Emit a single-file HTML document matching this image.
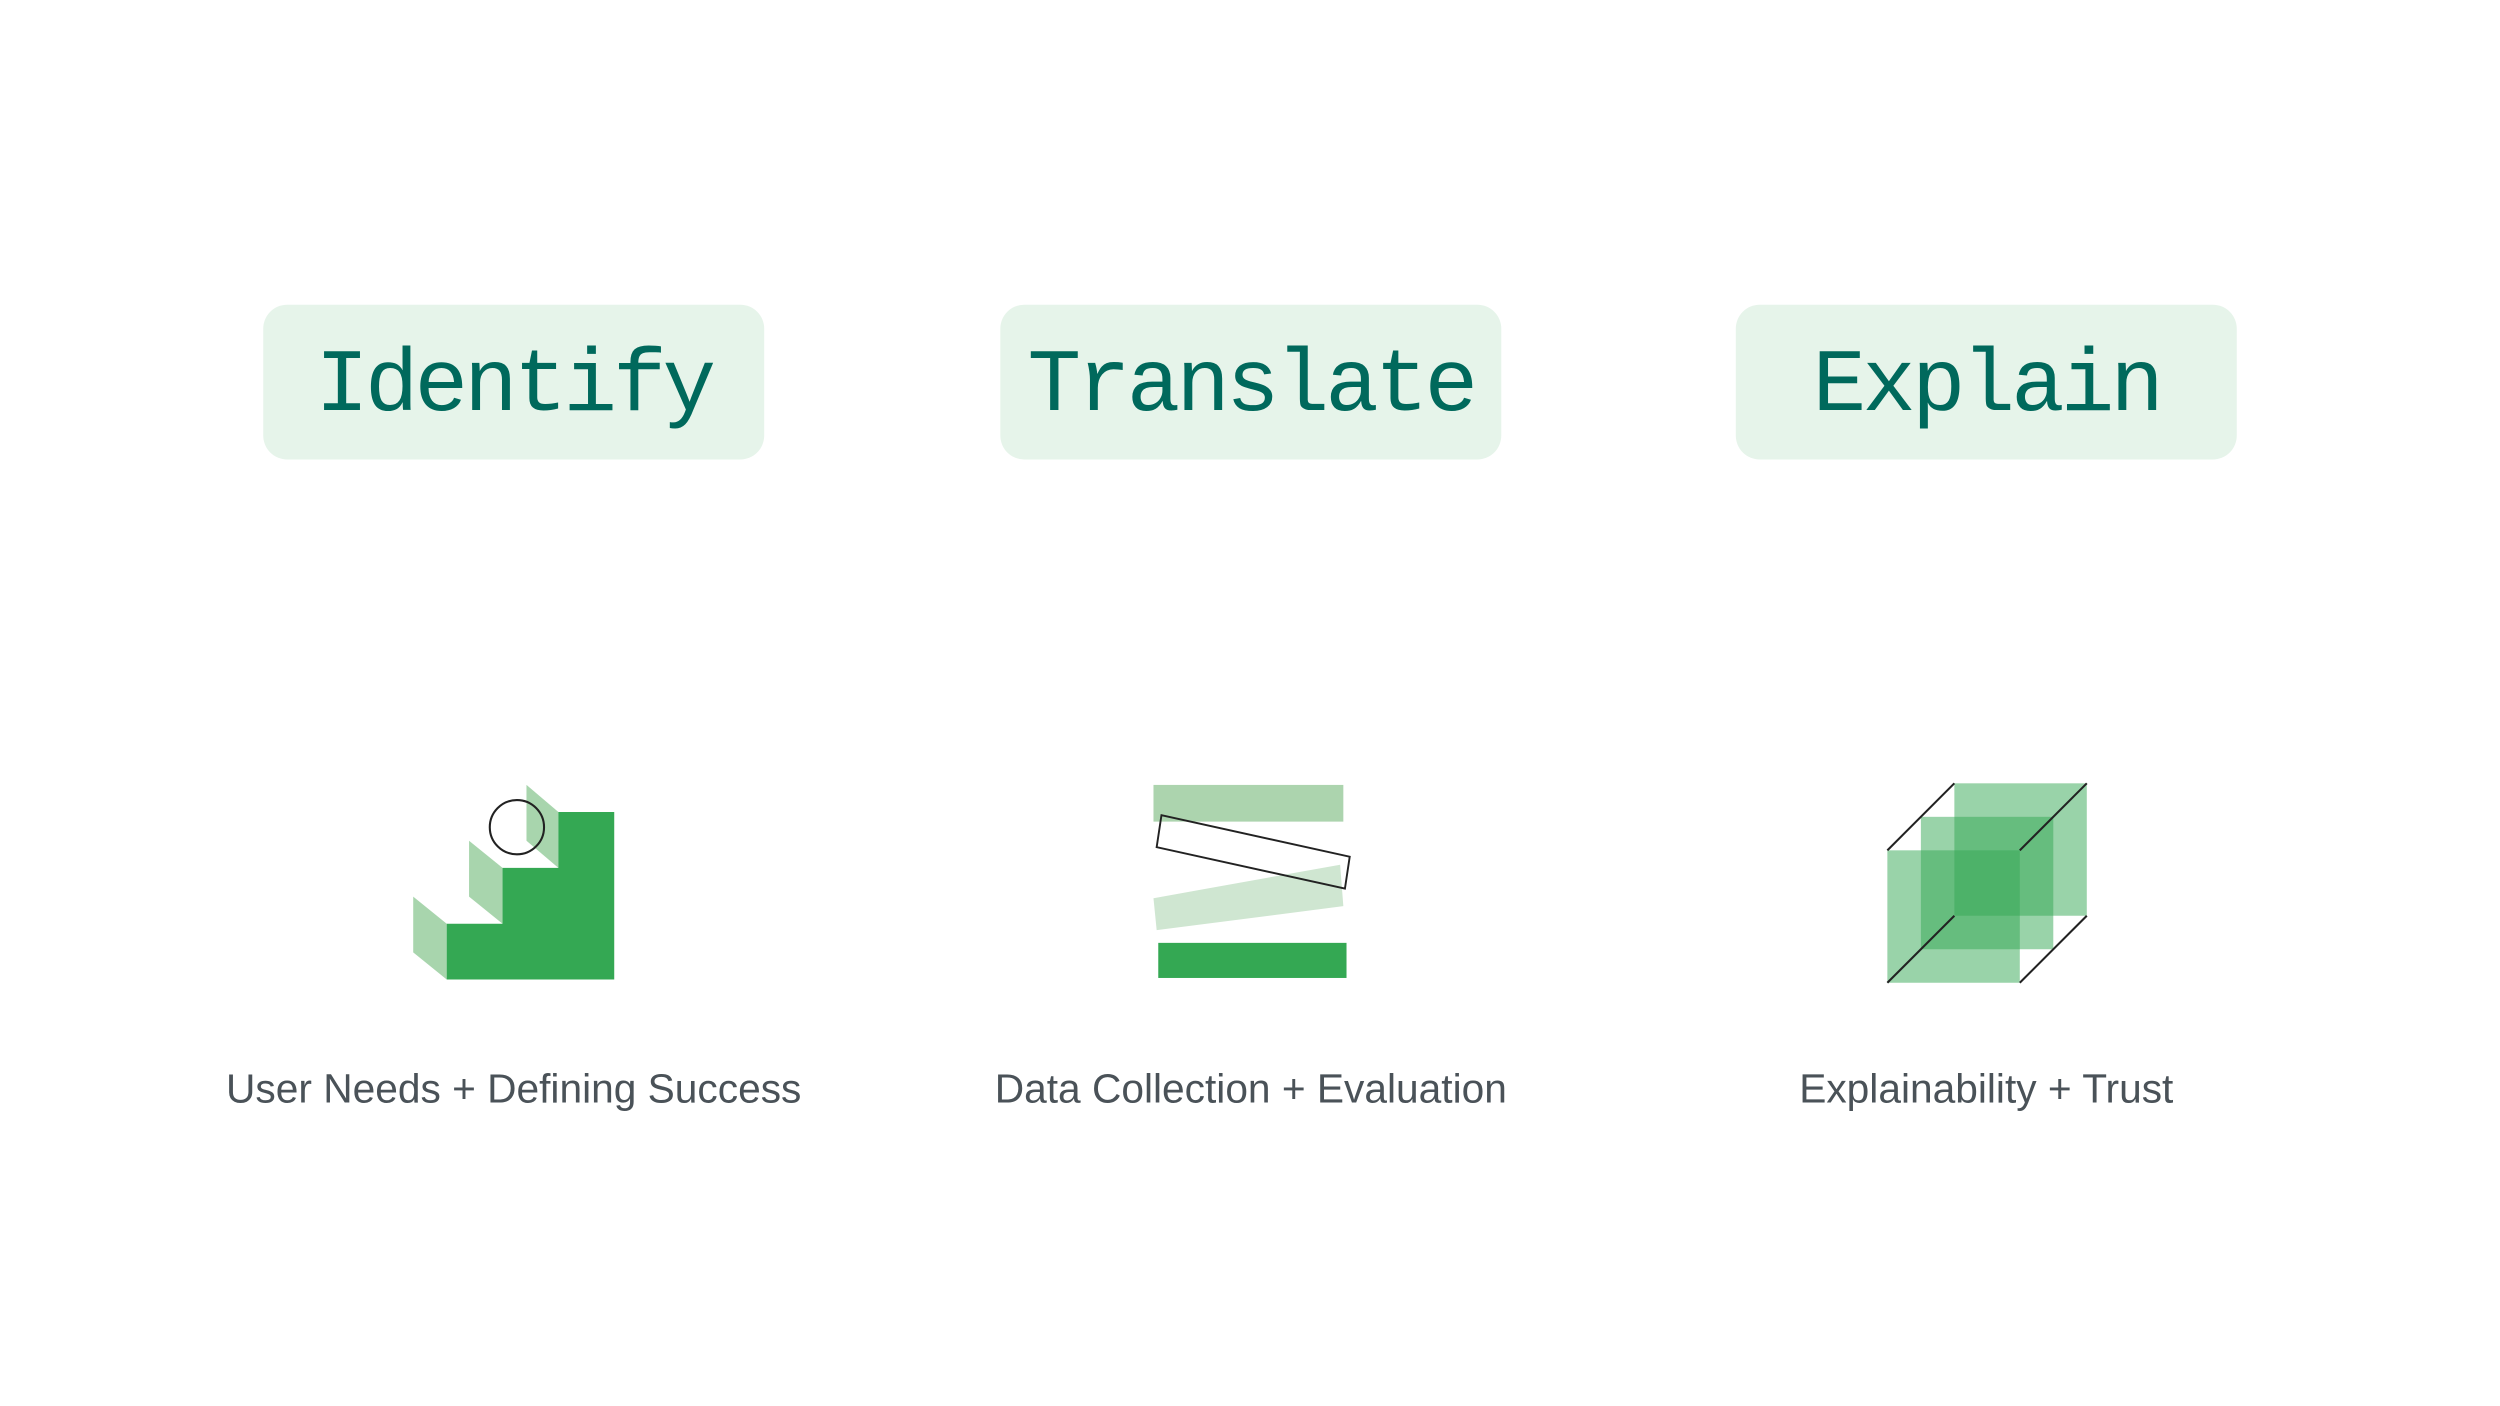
<!DOCTYPE html>
<html><head><meta charset="utf-8"><style>
html,body{margin:0;padding:0;background:#fff;}
svg{display:block;}
</style></head><body>
<svg width="2500" height="1406" viewBox="0 0 1567 881.3" preserveAspectRatio="none" xmlns="http://www.w3.org/2000/svg">
<rect x="0" y="0" width="1567" height="881.3" fill="#fff"/>
<g fill="#e6f4ea">
<rect x="165" y="191" width="314" height="97" rx="15"/>
<rect x="627" y="191" width="314" height="97" rx="15"/>
<rect x="1088" y="191" width="314" height="97" rx="15"/>
</g>
<g font-family="'Liberation Mono', monospace" font-size="56" fill="#00695c" text-anchor="middle" letter-spacing="-2.5">
<text x="322" y="257">Identify</text>
<text x="784" y="257">Translate</text>
<text x="1245" y="257">Explain</text>
</g>
<g font-family="'Liberation Sans', sans-serif" font-size="25.5" fill="#4a5258" text-anchor="middle">
<text x="322" y="691">User Needs + Defining Success</text>
<text x="784" y="691">Data Collection + Evaluation</text>
<text x="1245" y="691">Explainability + Trust</text>
</g>
<g fill="#a8d5ad">
<polygon points="259,562 280,579 280,614 259,597"/>
<polygon points="294,527 315,544 315,579 294,562"/>
<polygon points="330,492 350,509 350,544 330,527"/>
</g>
<polygon fill="#34a853" points="280,579 315,579 315,544 350,544 350,509 385,509 385,614 280,614"/>
<circle cx="324" cy="518.5" r="17" fill="none" stroke="#222" stroke-width="1.3"/>
<rect x="723" y="492" width="119" height="23" fill="#acd4ae"/>
<polygon points="723,563 840,542 842,568 725,583" fill="#cfe6d1"/>
<polygon points="728,511 846,537 843,557 725,531" fill="none" stroke="#222" stroke-width="1.2"/>
<rect x="726" y="591" width="118" height="22" fill="#34a853"/>
<g fill="#34a853" fill-opacity="0.5">
<rect x="1225" y="491" width="83" height="83"/>
<rect x="1204" y="512" width="83" height="83"/>
<rect x="1183" y="533" width="83" height="83"/>
</g>
<g stroke="#222" stroke-width="1.3">
<line x1="1183" y1="533" x2="1225" y2="491"/>
<line x1="1266" y1="533" x2="1308" y2="491"/>
<line x1="1183" y1="616" x2="1225" y2="574"/>
<line x1="1266" y1="616" x2="1308" y2="574"/>
</g>
</svg>
</body></html>
